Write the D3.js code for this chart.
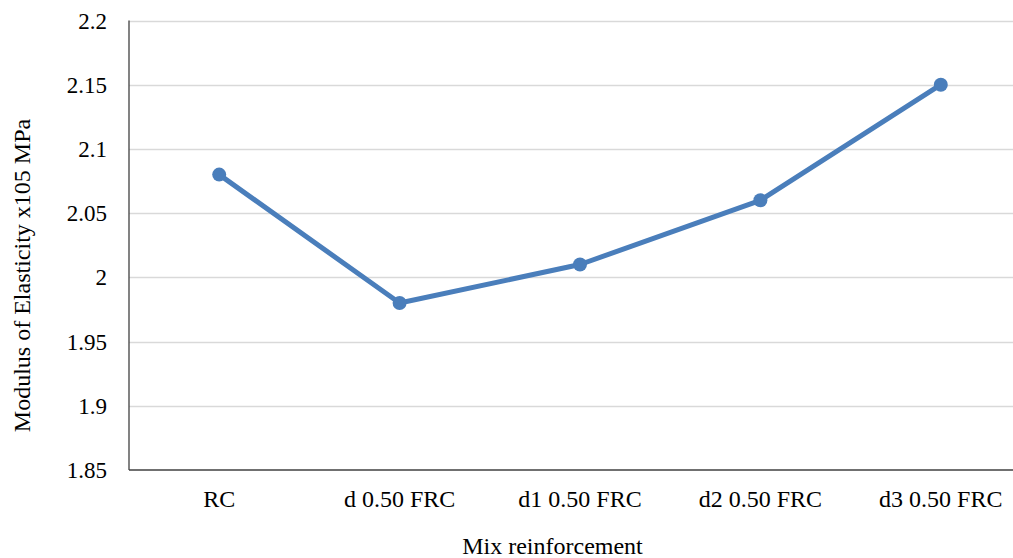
<!DOCTYPE html>
<html><head><meta charset="utf-8">
<script src="https://cdn.jsdelivr.net/npm/d3@7"></script>
<style>body{margin:0;background:#fff;}</style>
</head><body>
<svg id="c" width="1013" height="558"></svg>
<script>
const categories = ["RC","d 0.50 FRC","d1 0.50 FRC","d2 0.50 FRC","d3 0.50 FRC"];
const values = [2.08,1.98,2.01,2.06,2.15];
const yTicks = [1.85,1.9,1.95,2,2.05,2.1,2.15,2.2];

const FONT = "'Liberation Serif', 'DejaVu Serif', serif";
const FS = 23, FS2 = 24;
const svg = d3.select("#c").attr("font-family",FONT);
const L=129, R=1031, T=20.5, B=470;
const x = d3.scaleBand().domain(categories).range([L,R]);
const y = d3.scaleLinear().domain([1.85,2.2]).range([B,T]);

svg.append("g").selectAll("line").data(yTicks.slice(1)).join("line")
  .attr("x1",L).attr("x2",R).attr("y1",d=>Math.round(y(d))+0.5).attr("y2",d=>Math.round(y(d))+0.5)
  .attr("stroke","#d9d9d9").attr("stroke-width",1.5);

svg.append("line").attr("x1",L).attr("x2",L).attr("y1",T).attr("y2",B).attr("stroke","#404040").attr("stroke-width",1.3);
svg.append("line").attr("x1",L).attr("x2",R).attr("y1",B).attr("y2",B).attr("stroke","#404040").attr("stroke-width",1.3);

svg.append("g").selectAll("text").data(yTicks).join("text")
  .attr("font-family",FONT).attr("x",107).attr("y",d=>y(d)).attr("dy","0.35em").attr("text-anchor","end")
  .attr("font-size",FS).text(d=>d);

svg.append("g").selectAll("text").data(categories).join("text")
  .attr("font-family",FONT).attr("x",d=>x(d)+x.bandwidth()/2).attr("y",507).attr("text-anchor","middle")
  .attr("font-size",FS2).text(d=>d);

svg.append("text").attr("font-family",FONT).attr("x",552.5).attr("y",554).attr("text-anchor","middle").attr("font-size",FS2).text("Mix reinforcement");
svg.append("text").attr("font-family",FONT).attr("transform","translate(30,275.5) rotate(-90)").attr("text-anchor","middle").attr("font-size",FS2).text("Modulus of Elasticity x105 MPa");

const pts = categories.map((c,i)=>[x(c)+x.bandwidth()/2, y(values[i])]);
svg.append("path").attr("d",d3.line()(pts)).attr("fill","none").attr("stroke","#4a7ebb").attr("stroke-width",5).attr("stroke-linejoin","round").attr("stroke-linecap","round");
svg.append("g").selectAll("circle").data(pts).join("circle").attr("cx",d=>d[0]).attr("cy",d=>d[1]).attr("r",7).attr("fill","#4a7ebb");
</script>
</body></html>
